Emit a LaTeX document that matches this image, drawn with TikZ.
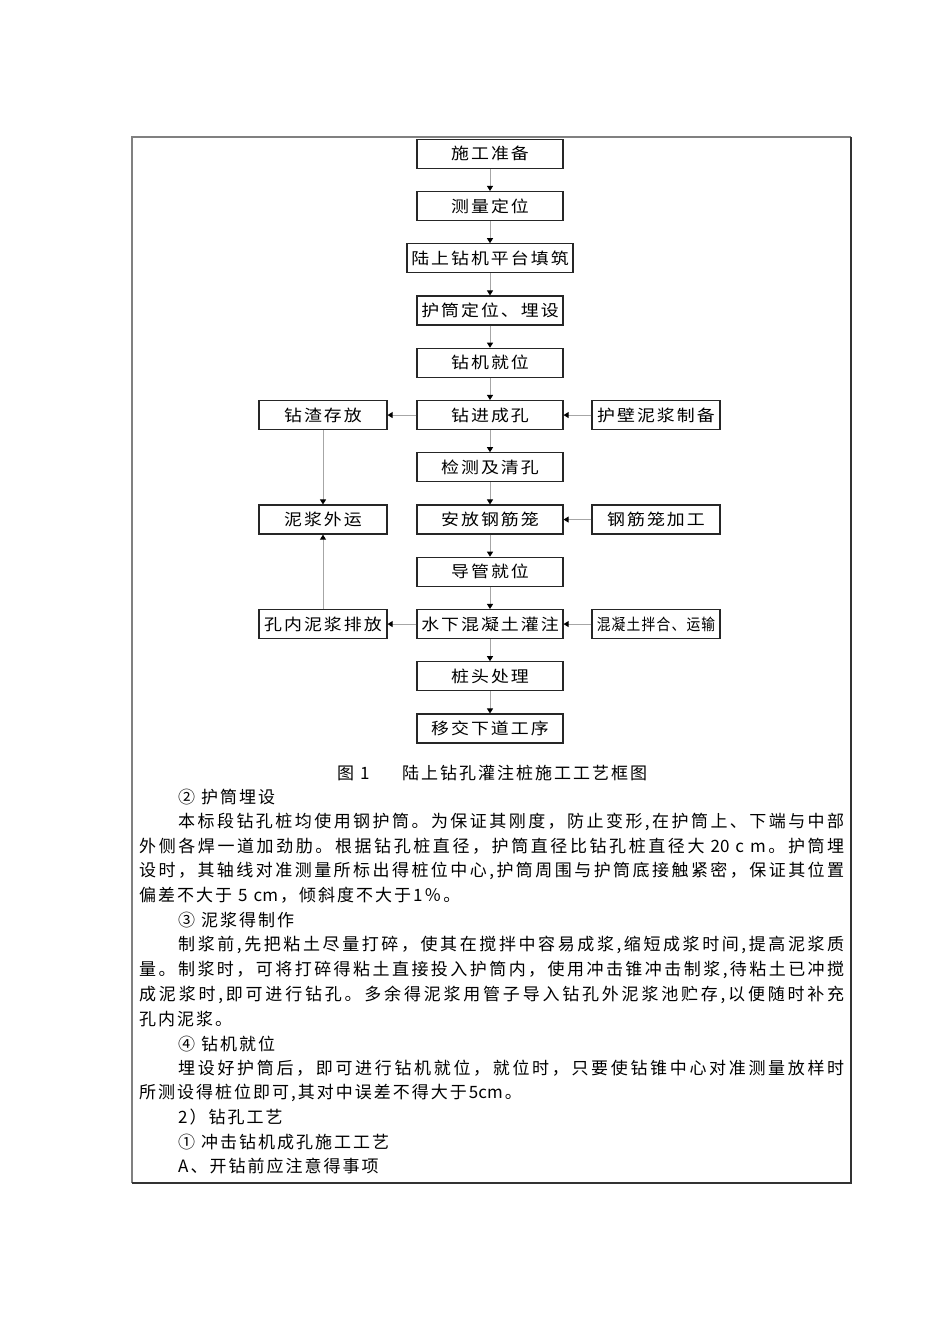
\documentclass[tikz,border=0pt]{standalone}
\usepackage{fontspec}
\setmainfont{Noto Sans CJK SC}
\newfontfamily\boxfont[FakeStretch=1.12]{Noto Sans CJK SC}
\newfontfamily\narrowfont[FakeStretch=0.86]{Noto Sans CJK SC}
\usetikzlibrary{arrows.meta}

% small gap between CJK characters, stretchable for justified lines
\XeTeXinterchartokenstate=1
\newcount\cjkcode
\cjkcode="4E00
\loop \XeTeXcharclass\cjkcode=1 \advance\cjkcode by 1 \ifnum\cjkcode<"A000 \repeat
\cjkcode="2460
\loop \XeTeXcharclass\cjkcode=1 \advance\cjkcode by 1 \ifnum\cjkcode<"2474 \repeat
\cjkcode="3000
\loop \XeTeXcharclass\cjkcode=3 \advance\cjkcode by 1 \ifnum\cjkcode<"3040 \repeat
\cjkcode="FF00
\loop \XeTeXcharclass\cjkcode=3 \advance\cjkcode by 1 \ifnum\cjkcode<"FF70 \repeat
\newcommand\cjkgap{\hskip 2pt plus 1fil\relax}
\XeTeXinterchartoks 1 1 = {\cjkgap}
\XeTeXinterchartoks 0 1 = {\cjkgap}
\XeTeXinterchartoks 1 0 = {\cjkgap}
\XeTeXinterchartoks 1 3 = {\cjkgap}
\XeTeXinterchartoks 3 1 = {\cjkgap}
\XeTeXinterchartoks 0 3 = {\cjkgap}
\XeTeXinterchartoks 3 0 = {\cjkgap}
\XeTeXinterchartoks 3 3 = {\cjkgap}
\newcommand\firstline[1]{\makebox[666pt][s]{#1}}
\newcommand\fullline[1]{\makebox[705pt][s]{#1}}
\newcommand\wsp{\hspace{6pt}}

\begin{document}
\begin{tikzpicture}[x=1pt, y=-1pt,
	procbox/.style = {draw = black!85, line width = 1.2pt, minimum width = 146pt, minimum height = 29pt, inner sep = 0pt, font = \boxfont\fontsize{16pt}{18pt}\selectfont},
	sidebox/.style = {procbox, minimum width = 128pt},
	flowarrow/.style = {draw = black!35, line width = 0.9pt, -{Triangle[length = 5pt, width = 6pt, black]}},
	bodytext/.style = {anchor = west, inner sep = 0pt, font = \fontsize{17pt}{20pt}\selectfont}]
	\useasboundingbox (0, 0) rectangle (950, 1344);

	% frame
	\draw[black!50, line width = 1.5pt] (132, 1183) -- (132, 137) -- (851, 137);
	\draw[black!80, line width = 1.5pt] (132, 1183) -- (851, 1183) -- (851, 137);

	% main column
	\node[procbox] (prep) at (490, 153.8){施工准备};
	\node[procbox] (survey) at (490, 206.05){测量定位};
	\node[procbox, minimum width = 166pt] (platform) at (490, 258.3){陆上钻机平台填筑};
	\node[procbox] (casing) at (490, 310.55){护筒定位、埋设};
	\node[procbox] (rigpos) at (490, 362.8){钻机就位};
	\node[procbox] (drill) at (490, 415.05){钻进成孔};
	\node[procbox] (clean) at (490, 467.3){检测及清孔};
	\node[procbox] (cage) at (490, 519.55){安放钢筋笼};
	\node[procbox] (tremie) at (490, 571.8){导管就位};
	\node[procbox] (pour) at (490, 624.05){水下混凝土灌注};
	\node[procbox] (pilehead) at (490, 676.3){桩头处理};
	\node[procbox] (handover) at (490, 728.55){移交下道工序};

	% side boxes
	\node[sidebox] (slag) at (323, 415.05){钻渣存放};
	\node[sidebox] (mudout) at (323, 519.55){泥浆外运};
	\node[sidebox] (muddrain) at (323, 624.05){孔内泥浆排放};
	\node[sidebox] (mudprep) at (656, 415.05){护壁泥浆制备};
	\node[sidebox] (cagemake) at (656, 519.55){钢筋笼加工};
	\node[sidebox] (concmix) at (656, 624.05){\narrowfont\def\cjkgap{\hskip 1.2pt\relax}混凝土拌合、运输};

	\draw[flowarrow] (prep) -- (survey);
	\draw[flowarrow] (survey) -- (platform);
	\draw[flowarrow] (platform) -- (casing);
	\draw[flowarrow] (casing) -- (rigpos);
	\draw[flowarrow] (rigpos) -- (drill);
	\draw[flowarrow] (drill) -- (clean);
	\draw[flowarrow] (clean) -- (cage);
	\draw[flowarrow] (cage) -- (tremie);
	\draw[flowarrow] (tremie) -- (pour);
	\draw[flowarrow] (pour) -- (pilehead);
	\draw[flowarrow] (pilehead) -- (handover);

	\draw[flowarrow] (drill) -- (slag);
	\draw[flowarrow] (mudprep) -- (drill);
	\draw[flowarrow] (slag) -- (mudout);
	\draw[flowarrow] (muddrain) -- (mudout);
	\draw[flowarrow] (cagemake) -- (cage);
	\draw[flowarrow] (pour) -- (muddrain);
	\draw[flowarrow] (concmix) -- (pour);

	% caption
	\node[bodytext] (fignum) at (337, 773){图\wsp 1};
	\node[bodytext] (figtitle) at (402, 773){陆上钻孔灌注桩施工工艺框图};

	% text
	\node[bodytext] (h2) at (178, 797.5){②\wsp 护筒埋设};
	\node[bodytext] (p2a) at (178, 822){\firstline{本标段钻孔桩均使用钢护筒。为保证其刚度，防止变形,在护筒上、下端与中部}};
	\node[bodytext] (p2b) at (139, 846.5){\fullline{外侧各焊一道加劲肋。根据钻孔桩直径，护筒直径比钻孔桩直径大\wsp 20\wsp c\wsp m。护筒埋}};
	\node[bodytext] (p2c) at (139, 871){\fullline{设时，其轴线对准测量所标出得桩位中心,护筒周围与护筒底接触紧密，保证其位置}};
	\node[bodytext] (p2d) at (139, 895.5){偏差不大于\wsp 5\wsp cm，倾斜度不大于1％。};
	\node[bodytext] (h3) at (178, 920.5){③\wsp 泥浆得制作};
	\node[bodytext] (p3a) at (178, 945){\firstline{制浆前,先把粘土尽量打碎，使其在搅拌中容易成浆,缩短成浆时间,提高泥浆质}};
	\node[bodytext] (p3b) at (139, 970){\fullline{量。制浆时，可将打碎得粘土直接投入护筒内，使用冲击锥冲击制浆,待粘土已冲搅}};
	\node[bodytext] (p3c) at (139, 994.5){\fullline{成泥浆时,即可进行钻孔。多余得泥浆用管子导入钻孔外泥浆池贮存,以便随时补充}};
	\node[bodytext] (p3d) at (139, 1019){孔内泥浆。};
	\node[bodytext] (h4) at (178, 1044){④\wsp 钻机就位};
	\node[bodytext] (p4a) at (178, 1068.5){\firstline{埋设好护筒后，即可进行钻机就位，就位时，只要使钻锥中心对准测量放样时}};
	\node[bodytext] (p4b) at (139, 1093){所测设得桩位即可,其对中误差不得大于5cm。};
	\node[bodytext] (s2) at (178, 1117.5){2）钻孔工艺};
	\node[bodytext] (s2a) at (178, 1142){①\wsp 冲击钻机成孔施工工艺};
	\node[bodytext] (s2b) at (178, 1166.5){A、开钻前应注意得事项};
\end{tikzpicture}
\end{document}
